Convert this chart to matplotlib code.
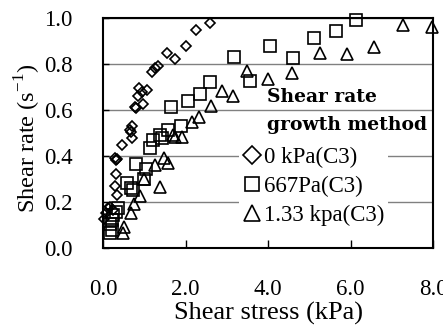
import matplotlib
matplotlib.use('Agg')
from matplotlib import pyplot as plt

# 0 kPa (C3)
stress_0 = [0.02, 0.08, 0.13, 0.17, 0.25, 0.35, 0.29, 0.32, 0.31, 0.33, 0.30, 0.45,
            0.70, 0.68, 0.70, 0.65, 0.80, 0.78, 0.98, 0.84, 0.87, 0.94, 1.06,
            1.18, 1.26, 1.33, 1.56, 1.75, 2.00, 2.25, 2.59]
rate_0 = [0.125, 0.150, 0.172, 0.180, 0.165, 0.230, 0.270, 0.322, 0.383, 0.386, 0.390, 0.448,
          0.477, 0.506, 0.530, 0.513, 0.607, 0.614, 0.626, 0.661, 0.694, 0.680, 0.687,
          0.767, 0.781, 0.791, 0.849, 0.820, 0.877, 0.946, 0.980]

# 667 Pa (C3)
stress_667 = [0.17, 0.21, 0.17, 0.21, 0.25, 0.31, 0.37, 0.57, 0.68, 0.72, 0.80, 1.00,
              1.04, 1.14, 1.22, 1.38, 1.42, 1.57, 1.88, 1.66, 2.05, 2.35, 2.59,
              3.18, 3.56, 4.06, 4.60, 5.12, 5.66, 6.14]
rate_667 = [0.065, 0.080, 0.105, 0.120, 0.143, 0.158, 0.175, 0.281, 0.262, 0.250, 0.364, 0.299,
            0.342, 0.433, 0.470, 0.491, 0.480, 0.513, 0.530, 0.614, 0.640, 0.670, 0.723,
            0.832, 0.727, 0.877, 0.824, 0.911, 0.945, 0.991]

# 1.33 kPa (C3)
stress_133 = [0.49, 0.52, 0.68, 0.75, 0.90, 1.00, 1.38, 1.26, 1.49, 1.57, 1.70, 1.75,
              1.92, 2.15, 2.33, 2.63, 2.88, 3.16, 3.50, 3.99, 4.58, 5.26, 5.91,
              6.57, 7.28, 7.97]
rate_133 = [0.064, 0.093, 0.151, 0.190, 0.225, 0.300, 0.267, 0.361, 0.390, 0.368, 0.491, 0.484,
            0.484, 0.547, 0.568, 0.619, 0.683, 0.662, 0.770, 0.733, 0.760, 0.849, 0.843,
            0.872, 0.970, 0.962]

labels = ['0 kPa(C3)', '667Pa(C3)', '1.33 kpa(C3)']
xticks = [0.0, 2.0, 4.0, 6.0, 8.0]
yticks = [0.0, 0.2, 0.4, 0.6, 0.8, 1.0]

plt.rcParams['font.family'] = ['Liberation Serif', 'DejaVu Serif']
plt.rcParams['mathtext.fontset'] = 'custom'
plt.rcParams['mathtext.rm'] = 'Liberation Serif'

fig = plt.figure(figsize=(4.43, 3.26), dpi=100)
ax = fig.add_axes([0.2325, 0.2393, 0.745, 0.7055])

mkw = dict(linestyle='none', markerfacecolor='none', markeredgecolor='black',
           markeredgewidth=1.2, clip_on=False, zorder=3)
ax.plot(stress_0, rate_0, marker='D', markersize=5.2, label=labels[0], **mkw)
ax.plot(stress_667, rate_667, marker='s', markersize=8.2, label=labels[1], **mkw)
ax.plot(stress_133, rate_133, marker='^', markersize=8.5, label=labels[2], **mkw)

ax.set_xlim(0, 8)
ax.set_ylim(0, 1)
ax.set_xticks(xticks)
ax.set_yticks(yticks)
ax.set_xticklabels(['%.1f' % v for v in xticks])
ax.set_yticklabels(['%.1f' % v for v in yticks])
ax.tick_params(axis='x', direction='in', length=6, width=1, pad=22, labelsize=16.5)
ax.tick_params(axis='y', direction='in', length=4, width=1, pad=22, labelsize=16.5)
ax.yaxis.grid(True, color='#808080', linewidth=1)
ax.set_axisbelow(True)
for s in ax.spines.values():
    s.set_linewidth(1.5)

ax.set_xlabel('Shear stress (kPa)', fontsize=19, va='center')
ax.xaxis.set_label_coords(0.5, -0.283)
ax.set_ylabel('Shear rate (s$^{\\mathrm{-1}}$)', fontsize=17.5, va='center')
ax.yaxis.set_label_coords(-0.227, 0.478)

# legend title drawn as two lines of text above the entries
ax.text(3.98, 0.657, 'Shear rate', family='DejaVu Serif', fontweight='bold',
        fontsize=13.5, va='center', ha='left', zorder=4)
ax.text(3.98, 0.535, 'growth method', family='DejaVu Serif', fontweight='bold',
        fontsize=13.5, va='center', ha='left', zorder=4)

leg = ax.legend(loc='upper left', bbox_to_anchor=(3.30 / 8, 0.455), fontsize=16.5,
                frameon=True, facecolor='white', edgecolor='none', framealpha=1,
                fancybox=False, borderpad=0.15, handlelength=0.8, handletextpad=0.15,
                labelspacing=0.35, borderaxespad=0)
leg.legend_handles[0].set_markersize(9.5)
leg.legend_handles[1].set_markersize(10)
leg.legend_handles[2].set_markersize(11)
leg.set_zorder(2.5)

fig.savefig('out.png', dpi=100)
